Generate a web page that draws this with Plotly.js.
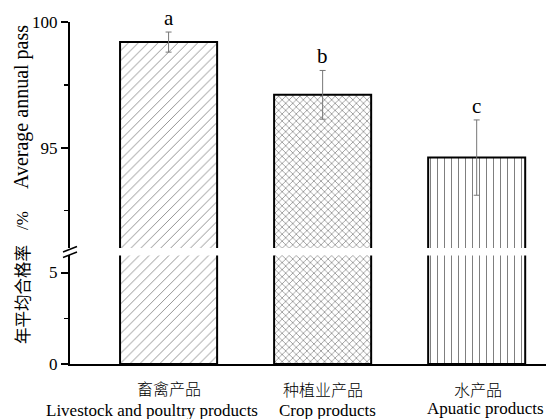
<!DOCTYPE html>
<html>
<head>
<meta charset="utf-8">
<script src="https://cdn.plot.ly/plotly-3.0.1.min.js"></script>
<style>html,body{margin:0;padding:0;background:#fff;}#chart{width:546px;height:419px;}</style>
</head>
<body>
<div id="chart"></div>
<script>
// ---- data ----
const categoriesCN = ["畜禽产品", "种植业产品", "水产品"];
const categoriesEN = ["Livestock and poultry products", "Crop products", "Apuatic products"];
const passRate = [99.2, 97.1, 94.6];
const passErr = [0.4, 0.97, 1.5];
const sigLetters = ["a", "b", "c"];
const yTitleCN = "年平均合格率";
const yTitleUnit = "/%";
const yTitleEN = "Average annual pass";

// ---- styling / layout ----
const W = 546, H = 419, L = 70, R = 0, T = 22, B = 55;
const PW = W - L - R, PH = H - T - B;
const px2x = p => (p - L) / PW;
const px2y = p => (H - B - p) / PH;

const xIdx = categoriesCN.map((_, i) => i);
const serif = "Liberation Serif, Times New Roman, Noto Sans CJK SC, serif";
const cjk = "Noto Sans CJK SC, sans-serif";

const pattern = {
  shape: ["/", "x", "|"],
  size: [7, 5, 7],
  solidity: [0.1, 0.18, 0.12],
  fgcolor: ["#666666", "#444444", "#666666"],
  bgcolor: "#ffffff",
  fillmode: "replace"
};

const barCommon = {
  type: "bar",
  x: xIdx,
  y: passRate,
  width: 0.63,
  marker: { color: "#ffffff", line: { color: "#000000", width: 2 }, pattern: pattern },
  hoverinfo: "skip",
  showlegend: false
};

const traceLower = Object.assign({}, barCommon, { xaxis: "x", yaxis: "y" });
const traceUpper = Object.assign({}, barCommon, {
  xaxis: "x", yaxis: "y2",
  error_y: { type: "data", array: passErr, visible: true, color: "#777777", thickness: 1, width: 3 }
});

const cnShift = [0, 0, 1.5], enShift = [-16.5, 5, 9];
const cnY = [-24, -25, -25], enY = [-46, -46, -44];

const annotations = [];
sigLetters.forEach((t, i) => {
  annotations.push({
    xref: "x", yref: "y2", x: i, y: passRate[i] + passErr[i], text: t,
    showarrow: false, yanchor: "bottom", xanchor: "center", yshift: 0,
    font: { family: serif, size: 21, color: "#000" }
  });
});
categoriesCN.forEach((t, i) => {
  annotations.push({
    xref: "x", yref: "paper", x: i, y: 0, text: t, showarrow: false,
    xanchor: "center", yanchor: "middle", xshift: cnShift[i], yshift: cnY[i],
    font: { family: cjk, size: 16, color: "#000", weight: 300 }
  });
  annotations.push({
    xref: "x", yref: "paper", x: i, y: 0, text: categoriesEN[i], showarrow: false,
    xanchor: "center", yanchor: "middle", xshift: enShift[i], yshift: enY[i],
    font: { family: serif, size: 17, color: "#000" }
  });
});
// y-axis title, split in pieces along the rotated line
annotations.push({
  xref: "paper", yref: "paper", x: px2x(22), y: px2y(295), textangle: -90,
  xanchor: "center", yanchor: "middle", showarrow: false, text: yTitleCN,
  font: { family: cjk, size: 16.5, color: "#000" }
});
annotations.push({
  xref: "paper", yref: "paper", x: px2x(22), y: px2y(221), textangle: -90,
  xanchor: "center", yanchor: "middle", showarrow: false, text: yTitleUnit,
  font: { family: serif, size: 17, color: "#000" }
});
annotations.push({
  xref: "paper", yref: "paper", x: px2x(22), y: px2y(107), textangle: -90,
  xanchor: "center", yanchor: "middle", showarrow: false, text: yTitleEN,
  font: { family: serif, size: 20, color: "#000" }
});

const shapes = [
  { type: "line", xref: "paper", yref: "paper", x0: px2x(63), y0: px2y(252), x1: px2x(77), y1: px2y(246.5), line: { color: "#000", width: 1.5 } },
  { type: "line", xref: "paper", yref: "paper", x0: px2x(63), y0: px2y(257.5), x1: px2x(77), y1: px2y(252), line: { color: "#000", width: 1.5 } }
];

const yCommon = {
  showgrid: false, zeroline: false, showline: true, linecolor: "#000", linewidth: 2,
  ticks: "outside", ticklen: 7, tickwidth: 2, tickcolor: "#000",
  tickfont: { family: serif, size: 17, color: "#000" },
  dtick: 5, tick0: 0,
  minor: { ticks: "outside", dtick: 2.5, tick0: 0, ticklen: 4, tickwidth: 1.5, tickcolor: "#000", showgrid: false },
  fixedrange: true
};

const layout = {
  width: W, height: H,
  margin: { l: L, r: R, t: T, b: B, pad: 0 },
  paper_bgcolor: "#fff", plot_bgcolor: "#fff",
  bargap: 0,
  xaxis: {
    range: [-0.64, 2.45], showgrid: false, zeroline: false, showticklabels: false,
    showline: true, linecolor: "#000", linewidth: 2, ticks: "", anchor: "y", fixedrange: true
  },
  yaxis: Object.assign({}, yCommon, { domain: [0, 0.3173], range: [0, 5.93], anchor: "x" }),
  yaxis2: Object.assign({}, yCommon, { domain: [0.3392, 1], range: [91.0, 100], anchor: "x" }),
  annotations: annotations,
  shapes: shapes
};

Plotly.newPlot("chart", [traceLower, traceUpper], layout, { staticPlot: true, displayModeBar: false });
</script>
</body>
</html>
